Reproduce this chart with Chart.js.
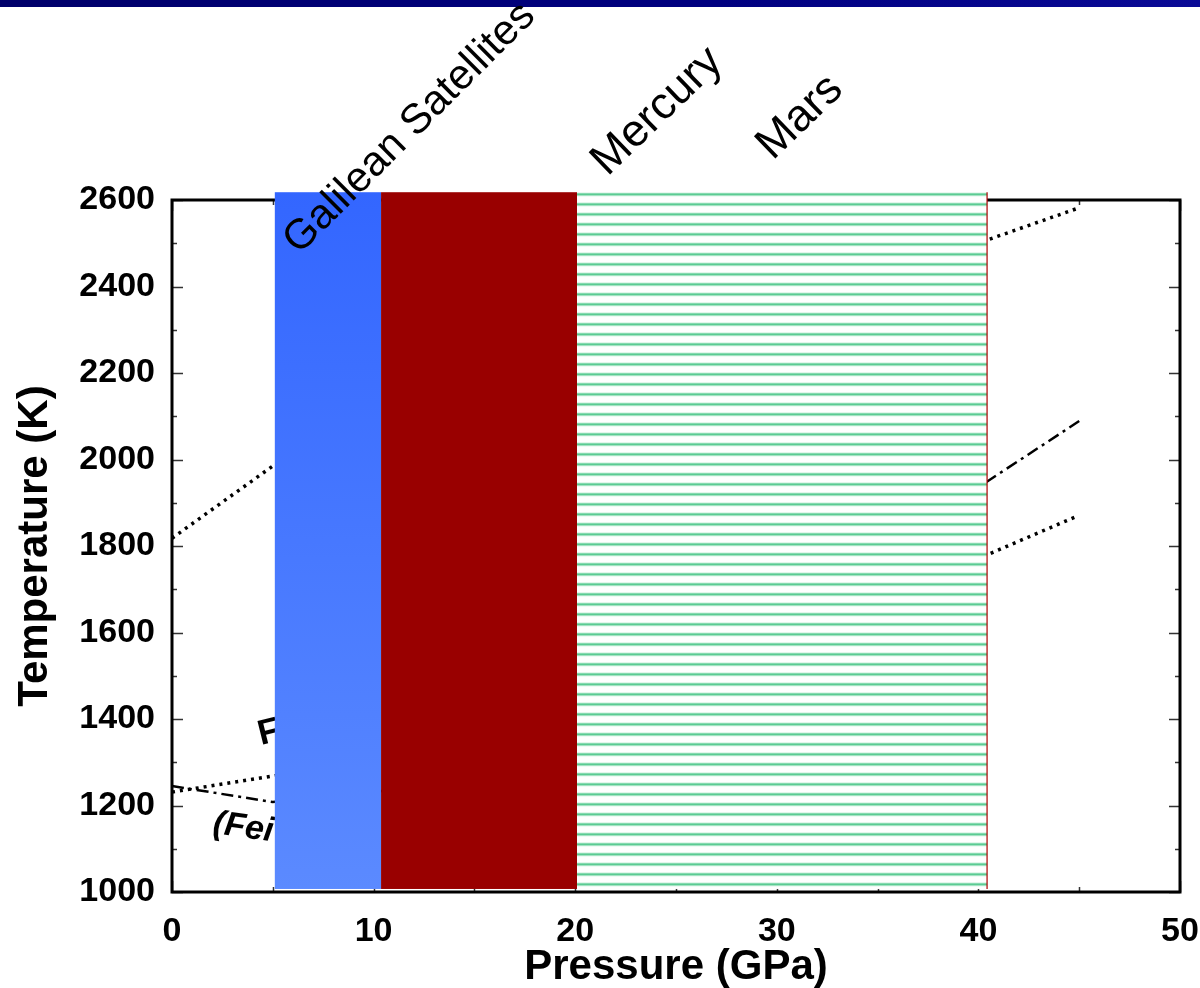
<!DOCTYPE html>
<html>
<head>
<meta charset="utf-8">
<script src="https://cdn.jsdelivr.net/npm/chart.js@4.4.1/dist/chart.umd.min.js"></script>
<style>
  html, body { margin: 0; padding: 0; background: #fff; }
  #wrap { width: 1200px; height: 988px; position: relative; }
</style>
</head>
<body>
<div id="wrap"><canvas id="ptChart"></canvas></div>
<script>
// axes
const xMin = 0, xMax = 50, xStep = 10;
const yMin = 1000, yMax = 2600, yStep = 200;

// Fe melting curve (dotted)
const feP = [0, 5, 10, 20, 30, 40.4, 45];
const feT = [1818, 1985, 2110, 2290, 2410, 2507, 2582];
// eutectic (dash-dot)
const eutP = [0, 5, 14, 20, 30, 40.4, 45];
const eutT = [1245, 1208, 1250, 1330, 1640, 1948, 2089];
// lower dotted curve
const lowP = [0, 5, 10, 20, 30, 40.4, 44.8];
const lowT = [1231, 1268, 1310, 1420, 1580, 1779, 1867];

// pressure ranges covered by the shaded blocks
const blockPmin = [5.1, 10.37, 20.09];
const blockPmax = [10.37, 20.09, 40.43];
const blockTmin = [1007, 1007, 1007];
const blockTmax = [2618, 2618, 2618];

// body labels
const bodyNames = ["Galilean Satellites", "Mercury", "Mars"];
const bodyP = [6.3, 21.6, 29.8];
const bodyT = [2472, 2653, 2690];
// label look
const bodyFontPx = [42, 45, 45];
const bodyAngle = [-45, -44, -44];

const FONT = 'Arial, "Liberation Sans", sans-serif';

function toXY(ps, ts) {
    return ps.map((p, i) => ({ x: p, y: ts[i] }));
}

// green striped fill
function stripePattern(ctx) {
    const c = document.createElement("canvas");
    c.width = 8; c.height = 10;
    const g = c.getContext("2d");
    g.fillStyle = "#ffffff"; g.fillRect(0, 0, 8, 10);
    const rows = { 2: "#e3f6ec", 3: "#86dab0", 4: "#5ccb93", 5: "#a4e3c3", 6: "#f0faf5" };
    for (const r in rows) { g.fillStyle = rows[r]; g.fillRect(0, +r, 8, 1); }
    return ctx.createPattern(c, "repeat");
}

const decor = {
    id: "decor",
    beforeDraw(chart) {
        const ctx = chart.ctx;
        const gr = ctx.createLinearGradient(0, 0, chart.width, 0);
        gr.addColorStop(0, "#00006a");
        gr.addColorStop(0.6, "#000080");
        gr.addColorStop(1, "#0a0a96");
        ctx.save();
        ctx.fillStyle = gr;
        ctx.fillRect(0, 0, chart.width, 7);
        ctx.restore();
    },
    beforeDatasetsDraw(chart) {
        const { ctx, chartArea: a, scales: { x, y } } = chart;
        ctx.save();
        // inward ticks on all four sides
        ctx.strokeStyle = "#333";
        ctx.lineWidth = 1.5;
        ctx.beginPath();
        for (let v = yMin; v <= yMax; v += 100) {
            const py = Math.round(y.getPixelForValue(v)) + 0.5;
            const len = v % 200 === 0 ? 11 : 5;
            ctx.moveTo(a.left, py); ctx.lineTo(a.left + len, py);
            ctx.moveTo(a.right, py); ctx.lineTo(a.right - len, py);
        }
        for (let v = xMin; v <= xMax; v += 5) {
            const px = Math.round(x.getPixelForValue(v)) + 0.5;
            const len = v % 10 === 0 ? 11 : 5;
            ctx.moveTo(px, a.bottom); ctx.lineTo(px, a.bottom - len);
            ctx.moveTo(px, a.top); ctx.lineTo(px, a.top + len);
        }
        ctx.stroke();
        // frame
        ctx.strokeStyle = "#000";
        ctx.lineWidth = 3;
        ctx.strokeRect(a.left, a.top, a.right - a.left, a.bottom - a.top);

        // curve labels (mostly hidden by the blocks)
        ctx.fillStyle = "#000";
        ctx.font = "bold 35px " + FONT;
        ctx.translate(261, 745);
        ctx.rotate(-14 * Math.PI / 180);
        ctx.fillText("Fe-FeS", 0, 0);
        ctx.setTransform(1, 0, 0, 1, 0, 0);
        ctx.font = "italic bold 34px " + FONT;
        ctx.translate(212, 833);
        ctx.rotate(8 * Math.PI / 180);
        ctx.fillText("(Fei et al.)", 0, 0);
        ctx.restore();
    },
    afterDatasetsDraw(chart) {
        const { ctx, scales: { x, y } } = chart;
        ctx.save();
        for (let i = 0; i < blockPmin.length; i++) {
            const x0 = x.getPixelForValue(blockPmin[i]);
            const x1 = x.getPixelForValue(blockPmax[i]);
            const y0 = y.getPixelForValue(blockTmax[i]);
            const y1 = y.getPixelForValue(blockTmin[i]);
            if (i === 0) {
                const g = ctx.createLinearGradient(0, y0, 0, y1);
                g.addColorStop(0, "#3366ff");
                g.addColorStop(1, "#5b8aff");
                ctx.fillStyle = g;
            } else if (i === 1) {
                ctx.fillStyle = "#990000";
            } else {
                ctx.fillStyle = stripePattern(ctx);
            }
            ctx.fillRect(x0, y0, x1 - x0, y1 - y0);
            if (i === 2) {
                ctx.strokeStyle = "#aa0000";
                ctx.lineWidth = 1.2;
                ctx.beginPath();
                ctx.moveTo(x1, y0); ctx.lineTo(x1, y1);
                ctx.stroke();
            }
        }
        // rotated body names
        ctx.fillStyle = "#000";
        ctx.textBaseline = "alphabetic";
        for (let i = 0; i < bodyNames.length; i++) {
            ctx.setTransform(1, 0, 0, 1, 0, 0);
            ctx.font = bodyFontPx[i] + "px " + FONT;
            ctx.translate(x.getPixelForValue(bodyP[i]), y.getPixelForValue(bodyT[i]));
            ctx.rotate(bodyAngle[i] * Math.PI / 180);
            ctx.fillText(bodyNames[i], 0, 0);
        }
        ctx.restore();
    }
};

const lineStyle = {
    borderColor: "#000",
    pointRadius: 0,
    fill: false,
    tension: 0,
    borderCapStyle: "butt",
};

new Chart(document.getElementById("ptChart"), {
    type: "line",
    data: {
        datasets: [
            { label: "Fe melting", data: toXY(feP, feT), borderWidth: 3.5, borderDash: [3, 5], ...lineStyle },
            { label: "eutectic", data: toXY(eutP, eutT), borderWidth: 2.5, borderDash: [12, 5, 3, 5], ...lineStyle },
            { label: "lower", data: toXY(lowP, lowT), borderWidth: 3.5, borderDash: [3, 5], ...lineStyle },
        ],
    },
    options: {
        responsive: true,
        maintainAspectRatio: false,
        devicePixelRatio: 1,
        animation: false,
        layout: { padding: { top: 200, right: 20, left: 0, bottom: 0 } },
        plugins: { legend: { display: false }, tooltip: { enabled: false } },
        scales: {
            x: {
                type: "linear",
                min: xMin, max: xMax,
                grid: { display: false, drawTicks: false },
                border: { display: false },
                ticks: { stepSize: xStep, padding: 19, color: "#000", font: { family: FONT, size: 34, weight: "bold" },
                         callback: (v) => String(v) },
                title: { display: true, text: "Pressure (GPa)", color: "#000", padding: { top: 0, bottom: 0 },
                         font: { family: FONT, size: 42, weight: "bold", lineHeight: 1 } },
                afterFit: (s) => { s.height = 96; s.paddingLeft = 0; s.paddingRight = 0; },
            },
            y: {
                min: yMin, max: yMax,
                grid: { display: false, drawTicks: false },
                border: { display: false },
                ticks: { stepSize: yStep, padding: 17, color: "#000", font: { family: FONT, size: 34, weight: "bold" },
                         callback: (v) => String(v) },
                title: { display: true, text: "Temperature (K)", color: "#000", padding: { top: 14, bottom: 0 },
                         font: { family: FONT, size: 42, weight: "bold", lineHeight: 1 } },
                afterFit: (s) => { s.width = 172; },
            },
        },
    },
    plugins: [decor],
});
</script>
</body>
</html>
